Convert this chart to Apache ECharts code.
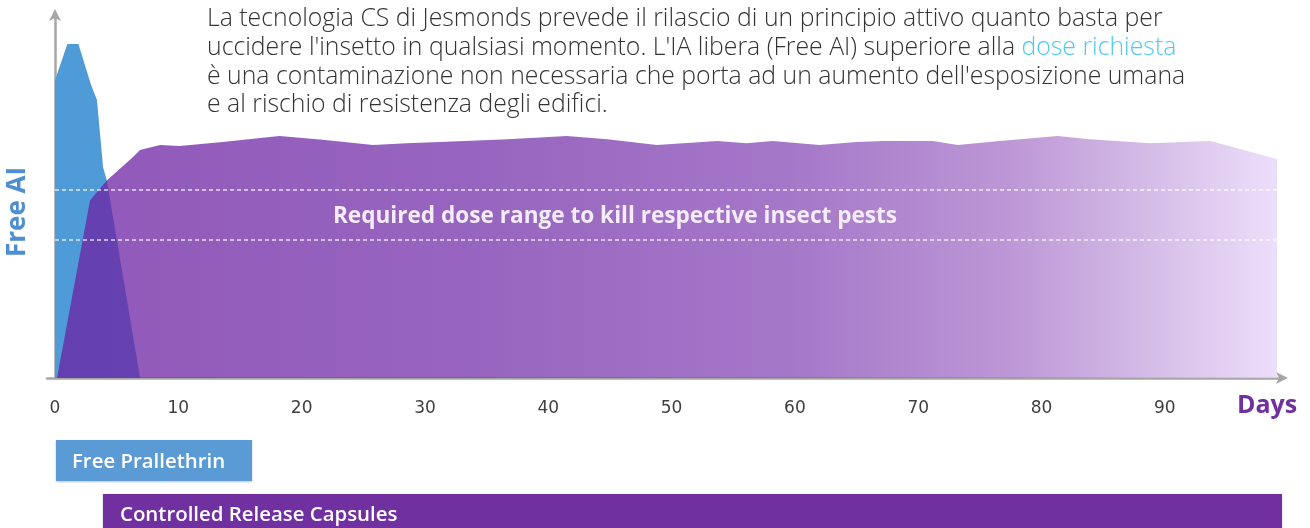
<!DOCTYPE html>
<html>
<head>
<meta charset="utf-8">
<script src="https://cdn.jsdelivr.net/npm/echarts@6/dist/echarts.min.js"></script>
<style>html,body{margin:0;padding:0;background:#fff;}#c{width:1310px;height:528px;}</style>
</head>
<body>
<div id="c"></div>
<script>
// ---- data ----
const tickLabels = [0, 10, 20, 30, 40, 50, 60, 70, 80, 90];
const blueDays = [0, 0, 1.0, 1.9, 2.9, 3.4, 3.9, 4.2, 6.9];
const blueVals = [0, 82, 92, 92, 81, 76.6, 58, 54.5, 0];
const purpleDays = [0.16, 2.84, 4.22, 6.33, 6.89, 8.52, 10.1, 13.6, 18.2, 21.7, 25.8, 28.5, 31.2, 36.7, 41.5, 44.8, 48.8, 53.7, 56.1, 58.2, 62.0, 65.0, 67.2, 71.2, 73.2, 76.6, 81.3, 83.9, 88.8, 93.7, 96.4, 99.1, 99.1];
const purpleVals = [0, 49, 54.5, 60.9, 62.8, 64.2, 63.9, 65.0, 66.7, 65.6, 64.2, 64.7, 65.0, 65.8, 66.7, 65.8, 64.2, 65.3, 64.7, 65.3, 64.2, 65.0, 65.3, 65.3, 64.2, 65.3, 66.7, 65.8, 64.7, 65.3, 62.8, 60.3, 0];
const doseRange = [38.0, 51.8];
const doseSpan = [0, 99.1];

const pair = (xs, ys) => xs.map((x, i) => [x, ys[i]]);

const chart = echarts.init(document.getElementById('c'), null, {renderer: 'canvas'});

const dashStyle = {color: 'rgba(255,255,255,0.6)', width: 2, type: [4, 3]};

chart.setOption({
  animation: false,
  grid: {left: 47, right: 28, top: 15, bottom: 150, containLabel: false},
  xAxis: {
    type: 'value', min: -0.65, max: 99.5,
    axisLine: {show: true, lineStyle: {color: '#a6a6a6', width: 2.5}, symbol: ['none', 'arrow'], symbolSize: [9, 12], symbolOffset: [0, 6]},
    axisTick: {show: false},
    splitLine: {show: false},
    axisLabel: {customValues: tickLabels, margin: 22, color: '#404040', fontFamily: 'DejaVu Sans', fontSize: 17}
  },
  yAxis: {
    type: 'value', min: 0, max: 100,
    axisLine: {show: true, lineStyle: {color: '#a6a6a6', width: 2.5}, symbol: ['none', 'arrow'], symbolSize: [9, 12], symbolOffset: [0, 6]},
    axisTick: {show: false}, axisLabel: {show: false}, splitLine: {show: false}
  },
  series: [
    {
      name: 'Free Prallethrin', type: 'line', data: pair(blueDays, blueVals),
      symbol: 'none', lineStyle: {width: 0}, areaStyle: {color: '#4e9bd8', opacity: 1}
    },
    {
      name: 'Controlled Release Capsules', type: 'line', data: pair(purpleDays, purpleVals),
      symbol: 'none', lineStyle: {width: 0},
      areaStyle: {
        opacity: 1,
        color: {type: 'linear', x: 0, y: 0, x2: 1, y2: 0, colorStops: [
          {offset: 0, color: 'rgba(108,32,162,0.75)'},
          {offset: 0.35, color: 'rgba(116,50,170,0.75)'},
          {offset: 0.6, color: 'rgba(135,74,182,0.75)'},
          {offset: 0.78, color: 'rgba(166,116,200,0.75)'},
          {offset: 0.9, color: 'rgba(199,168,224,0.75)'},
          {offset: 1, color: 'rgba(231,211,248,0.75)'}
        ]}
      },
      markLine: {
        silent: true, symbol: 'none', label: {show: false},
        lineStyle: dashStyle,
        data: doseRange.map(v => [{coord: [doseSpan[0], v]}, {coord: [doseSpan[1], v]}])
      }
    }
  ],
  graphic: [
    {
      type: 'text', left: 207, top: 5, z: 100,
      style: {
        text: 'La tecnologia CS di Jesmonds prevede il rilascio di un principio attivo quanto basta per\n' +
              "uccidere l'insetto in qualsiasi momento. L'IA libera (Free AI) superiore alla {l|dose richiesta}\n" +
              "è una contaminazione non necessaria che porta ad un aumento dell'esposizione umana\n" +
              'e al rischio di resistenza degli edifici.',
        font: '300 24.8px "Open Sans"', fill: '#333333', lineHeight: 28.6,
        rich: {l: {fill: '#4fc9f0', font: '300 24.8px "Open Sans"', lineHeight: 28.6}}
      }
    },
    {
      type: 'text', x: 18, y: 212, rotation: Math.PI / 2, z: 100,
      style: {text: 'Free AI', font: 'bold 26px "Open Sans"', fill: '#4f8fcf', align: 'center', verticalAlign: 'middle'}
    },
    {
      type: 'text', x: 615, y: 217, z: 100,
      style: {text: 'Required dose range to kill respective insect pests', font: 'bold 22.6px "Open Sans"', fill: '#f4ecf8', align: 'center', verticalAlign: 'middle'}
    },
    {
      type: 'text', x: 1237, y: 406, z: 100,
      style: {text: 'Days', font: 'bold 25px "Open Sans"', fill: '#7030a0', align: 'left', verticalAlign: 'middle'}
    },
    {
      type: 'rect', shape: {x: 56, y: 440, width: 196, height: 41}, z: 90,
      style: {fill: '#5b9bd5', shadowBlur: 2, shadowColor: 'rgba(0,0,0,0.25)', shadowOffsetY: 1}
    },
    {
      type: 'text', x: 72, y: 462, z: 100,
      style: {text: 'Free Prallethrin', font: '600 20.4px "Open Sans"', fill: '#ffffff', verticalAlign: 'middle'}
    },
    {
      type: 'rect', shape: {x: 103, y: 494, width: 1179, height: 40}, z: 90,
      style: {fill: '#7030a0', shadowBlur: 2, shadowColor: 'rgba(0,0,0,0.25)', shadowOffsetY: 1}
    },
    {
      type: 'text', x: 120, y: 515, z: 100,
      style: {text: 'Controlled Release Capsules', font: '600 20.4px "Open Sans"', fill: '#ffffff', verticalAlign: 'middle'}
    }
  ]
});
</script>
</body>
</html>
